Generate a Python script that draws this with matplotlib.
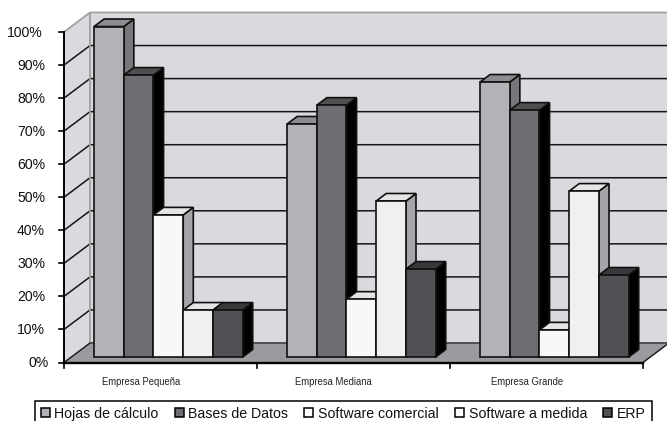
import matplotlib
matplotlib.use("Agg")
import matplotlib.pyplot as plt
from matplotlib.patches import Polygon, Patch

plt.rcParams["font.family"] = ["Liberation Sans", "DejaVu Sans"]

groups = ["Empresa Pequeña", "Empresa Mediana", "Empresa Grande"]
series = ["Hojas de cálculo", "Bases de Datos", "Software comercial", "Software a medida", "ERP"]
hojas = [100.0, 70.5, 83.2]
bases = [85.3, 76.2, 74.7]
comercial = [43.0, 17.5, 8.2]
medida = [14.2, 47.2, 50.2]
erp = [14.2, 26.6, 24.8]
values = [hojas, bases, comercial, medida, erp]
pct_ticks = list(range(0, 101, 10))

front_colors = ["#b1b3b6", "#6c6e71", "#f8f8f8", "#eff0f2", "#505154"]
top_colors = ["#8b8d90", "#4e4f51", "#e4e5e7", "#e4e5e7", "#38393b"]
side_colors = ["#75777a", "#000000", "#a3a5a8", "#a3a5a8", "#000000"]
legend_colors = ["#b1b3b6", "#6c6e71", "#ffffff", "#ffffff", "#505154"]
wall_color = "#d9dade"
floor_color = "#999b9e"

W, H = 667, 421
X0, X3 = 64.0, 643.0
Y0, Y100 = 362.5, 32.0
PX_PER_CAT = (X3 - X0) / 3
PX_PER_PCT = (Y0 - Y100) / 100
DEPTH_X = 26.0 / PX_PER_CAT
DEPTH_Y = 19.5 / PX_PER_PCT

fig = plt.figure(figsize=(W / 100, H / 100), dpi=100)
ax = fig.add_axes([0, 0, 1, 1])
ax.set_xlim(-X0 / PX_PER_CAT, (W - X0) / PX_PER_CAT)
ax.set_ylim((Y0 - H) / PX_PER_PCT, Y0 / PX_PER_PCT)
ax.axis("off")


def proj(x, v, d=0.0):
    """Oblique projection: category position, percent value and depth (0 front, 1 back)."""
    return (x + d * DEPTH_X, v + d * DEPTH_Y)


def quad(points, **kw):
    ax.add_patch(Polygon([proj(*p) for p in points], closed=True, clip_on=True, **kw))


# Walls and floor
quad([(0, 0, 0), (0, 0, 1), (0, 100, 1), (0, 100, 0)], fc=wall_color, ec="none", zorder=1)
quad([(0, 0, 1), (3, 0, 1), (3, 100, 1), (0, 100, 1)], fc=wall_color, ec="none", zorder=1)
quad([(0, 0, 0), (3, 0, 0), (3, 0, 1), (0, 0, 1)], fc=floor_color, ec="none", zorder=1)

# Gridlines across the side wall and the back wall
for p in pct_ticks[1:-1]:
    xs, ys = zip(proj(0, p, 0), proj(0, p, 1), proj(3, p, 1))
    ax.plot(xs, ys, color="#151515", lw=1.1, zorder=2)
xs, ys = zip(proj(0, 100, 0), proj(0, 100, 1), proj(3, 100, 1))
ax.plot(xs, ys, color="#a0a1a3", lw=1.3, zorder=2)
xs, ys = zip(proj(0, 0, 1), proj(3, 0, 1))
ax.plot(xs, ys, color="#4a4a4c", lw=1.3, zorder=2)
xs, ys = zip(proj(0, 0, 1), proj(0, 100, 1))
ax.plot(xs, ys, color="#a0a1a3", lw=1.3, zorder=2)
xs, ys = zip(proj(0, 0, 0), proj(0, 0, 1))
ax.plot(xs, ys, color="#151515", lw=1.0, zorder=2)
xs, ys = zip(proj(3, 0, 0), proj(3, 0, 1))
ax.plot(xs, ys, color="#151515", lw=1.0, zorder=2)

# Bars, each one a front face, a top and a right side
GAP = 0.118
BAR_W = (1 - 2 * 0.115) / len(series)
D_FRONT, D_BACK = 0.28, 0.667
edge = dict(ec="#101010", lw=1.2, joinstyle="miter")
z = 3
for g in range(len(groups)):
    for s in range(len(series)):
        v = values[s][g]
        x0 = g + GAP + s * BAR_W
        x1 = x0 + BAR_W
        quad([(x1, 0, D_FRONT), (x1, 0, D_BACK), (x1, v, D_BACK), (x1, v, D_FRONT)],
             fc=side_colors[s], zorder=z, **edge)
        quad([(x0, v, D_FRONT), (x1, v, D_FRONT), (x1, v, D_BACK), (x0, v, D_BACK)],
             fc=top_colors[s], zorder=z, **edge)
        quad([(x0, 0, D_FRONT), (x1, 0, D_FRONT), (x1, v, D_FRONT), (x0, v, D_FRONT)],
             fc=front_colors[s], zorder=z, **edge)
        z += 1

# Front axes with their ticks and labels
ax.plot([0, 0], [0, 100], color="black", lw=1.4, zorder=z)
ax.plot([0, 3], [0, 0], color="black", lw=1.7, zorder=z)
tick_x = 5 / PX_PER_CAT
tick_y = 5.5 / PX_PER_PCT
label_right = {0: 49, 100: 43}
for p in pct_ticks:
    ax.plot([-tick_x, 0], [p, p], color="black", lw=1.2, zorder=z)
    right = label_right.get(p, 45)
    ax.text((right - X0) / PX_PER_CAT, p - 0.3, f"{p}%", ha="right", va="center",
            fontsize=10.1, color="#111111")
for g in range(len(groups) + 1):
    ax.plot([g, g], [0, -tick_y], color="black", lw=1.2, zorder=z)
for g, name in enumerate(groups):
    ax.text(g + 0.5 - 0.102, -19.3 / PX_PER_PCT, name, ha="center", va="center",
            fontsize=6.85, color="#222222")

# Legend along the bottom edge, its lower border running off the canvas
handles = [Patch(fc=c, ec="black", lw=1.1) for c in legend_colors]
leg = fig.legend(handles, series, loc="upper left",
                 bbox_to_anchor=(34.5 / W, 1 - 400.5 / H),
                 ncol=5, frameon=True, fancybox=False, edgecolor="black",
                 framealpha=1, fontsize=10.15, handlelength=0.65, handleheight=0.65,
                 handletextpad=0.33, columnspacing=1.13, borderpad=0.43,
                 borderaxespad=0, labelcolor="#111111")
leg.get_frame().set_linewidth(1.1)

fig.savefig("out.png", dpi=100)
